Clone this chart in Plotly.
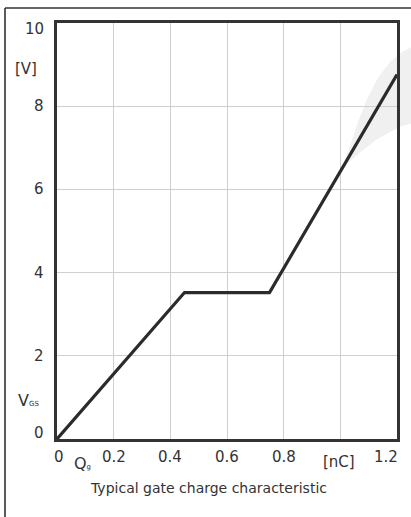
import plotly.graph_objects as go

# Data
qg_nc = [0.0, 0.45, 0.75, 1.2]
vgs_v = [0.0, 3.52, 3.52, 8.76]
x_ticks = [0, 0.2, 0.4, 0.6, 0.8, 1.2]
x_tick_labels = ["0", "0.2", "0.4", "0.6", "0.8", "1.2"]
y_ticks = [0, 2, 4, 6, 8, 10]
y_tick_labels = ["0", "2", "4", "6", "8", "10"]

W, H = 411, 517
ML, MR, MT, MB = 57, 14, 23, 78
PW, PH = W - ML - MR, H - MT - MB

def px(x):
    return (x - ML) / PW

def py(y):
    return (H - MB - y) / PH

FONT = "DejaVu Sans"
TXT = "#333333"
TS = 15

fig = go.Figure()
fig.add_trace(go.Scatter(
    x=qg_nc, y=vgs_v, mode="lines",
    line=dict(color="#2b2b2b", width=3.2),
    hoverinfo="skip", showlegend=False, cliponaxis=False,
))

annotations = []
# y tick labels
for v, t in zip(y_ticks, y_tick_labels):
    yy = v
    if v == 10:
        yy = 9.85
    if v == 0:
        yy = 0.15
    annotations.append(dict(x=px(46), xref="paper", y=yy, yref="y", text=t,
                            xanchor="right", yanchor="middle", showarrow=False,
                            font=dict(family=FONT, size=TS, color=TXT)))
# x tick labels
for v, t in zip(x_ticks, x_tick_labels):
    xx = v
    if v == 0:
        xx = 0.008
    if v == 1.2:
        xx = 1.16
    annotations.append(dict(x=xx, xref="x", y=py(457.5), yref="paper", text=t,
                            xanchor="center", yanchor="middle", showarrow=False,
                            font=dict(family=FONT, size=TS, color=TXT)))
# units and symbols
annotations += [
    dict(x=px(26), xref="paper", y=py(69), yref="paper", text="[V]",
         xanchor="center", yanchor="middle", showarrow=False,
         font=dict(family=FONT, size=TS, color=TXT)),
    dict(x=px(339), xref="paper", y=py(462), yref="paper", text="[nC]",
         xanchor="center", yanchor="middle", showarrow=False,
         font=dict(family=FONT, size=TS, color=TXT)),
    dict(x=px(72), xref="paper", y=py(463), yref="paper",
         text="Q<span style='font-size:7px'>g</span>",
         xanchor="left", yanchor="middle", showarrow=False,
         font=dict(family=FONT, size=16, color=TXT)),
    dict(x=px(16), xref="paper", y=py(400), yref="paper",
         text="V<span style='font-size:7px'>GS</span>",
         xanchor="left", yanchor="middle", showarrow=False,
         font=dict(family=FONT, size=16, color=TXT)),
    dict(x=px(208.5), xref="paper", y=py(488), yref="paper",
         text="Typical gate charge characteristic",
         xanchor="center", yanchor="middle", showarrow=False,
         font=dict(family=FONT, size=14, color=TXT)),
]

# outer frame (open at right and bottom) and light watermark swoosh
swoosh_pts = [(342, 169), (350, 146), (358, 122), (368, 97), (378, 78),
              (390, 62), (402, 52), (414, 46), (414, 123), (402, 126),
              (390, 132), (376, 140), (362, 151), (350, 161)]
path = "M " + " L ".join(f"{px(a):.4f},{py(b):.4f}" for a, b in swoosh_pts) + " Z"
shapes = [
    dict(type="path", path=path, xref="paper", yref="paper",
         fillcolor="#f0f0f0", line=dict(width=0), layer="below"),
    dict(type="line", xref="paper", yref="paper", x0=px(5), y0=py(8), x1=px(420), y1=py(8),
         line=dict(color="#333333", width=1.6)),
    dict(type="line", xref="paper", yref="paper", x0=px(5), y0=py(8), x1=px(5), y1=py(530),
         line=dict(color="#333333", width=1.6)),
]

axis_common = dict(showgrid=True, gridcolor="#cfcfcf", gridwidth=1,
                   showline=True, linecolor="#333333", linewidth=2.6, mirror=True,
                   zeroline=False, ticks="", showticklabels=False, fixedrange=True)

fig.update_layout(
    width=W, height=H,
    margin=dict(l=ML, r=MR, t=MT, b=MB, pad=0),
    paper_bgcolor="white", plot_bgcolor="rgba(0,0,0,0)",
    xaxis=dict(range=[0, 1.2], tickvals=[0.2, 0.4, 0.6, 0.8, 1.0], **axis_common),
    yaxis=dict(range=[0, 10], tickvals=[2, 4, 6, 8], **axis_common),
    annotations=annotations, shapes=shapes, showlegend=False,
)

fig.write_html("out.html", config={"displayModeBar": False},
               post_script="document.body.style.margin='0';document.body.style.overflow='hidden';")
